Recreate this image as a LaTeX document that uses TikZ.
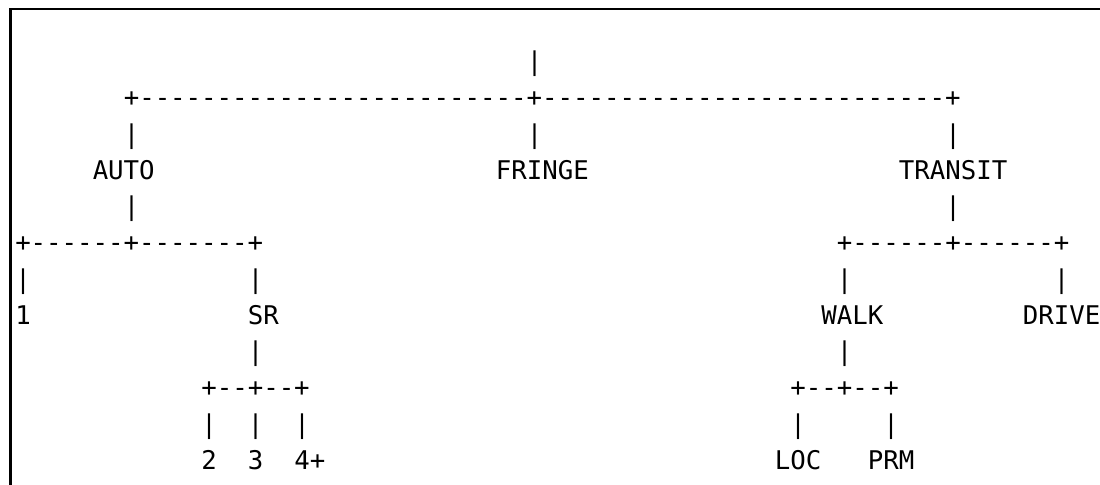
\documentclass[tikz,border=0pt]{standalone}
\usepackage{fontspec}
\setmonofont{DejaVu Sans Mono}
\usepackage{tikz}
\tikzstyle{asc}=[anchor=base west, inner sep=0pt, outer sep=0pt, font=\ttfamily\fontsize{19.31}{23}\selectfont]
\tikzstyle{frame}=[line width=1.9pt, draw=black]
% one piece of the ascii tree: name, column, line, text
\newcommand{\ascii}[4]
{
  \node[asc](#1) at ({15.25+15.5*#2},{70.6+36.25*#3}){#4};
}

\begin{document}
\begin{tikzpicture}[x=0.75pt, y=-0.75pt]
	\useasboundingbox (0,0) rectangle (1100,485);
	\draw[frame] (10.3,486) |- (1101,9.2);

	\ascii{rootbar}{33}{0}{|}
	\ascii{topbranch}{7}{1}{+-------------------------+--------------------------+}
	\ascii{autobar}{7}{2}{|}
	\ascii{fringebar}{33}{2}{|}
	\ascii{transitbar}{60}{2}{|}
	\ascii{auto}{5}{3}{AUTO}
	\ascii{fringe}{31}{3}{FRINGE}
	\ascii{transit}{57}{3}{TRANSIT}
	\ascii{autodown}{7}{4}{|}
	\ascii{transitdown}{60}{4}{|}

	\ascii{autobranch}{0}{5}{+------+-------+}
	\ascii{transitbranch}{53}{5}{+------+------+}
	\ascii{onebar}{0}{6}{|}
	\ascii{srbar}{15}{6}{|}
	\ascii{walkbar}{53}{6}{|}
	\ascii{drivebar}{67}{6}{|}
	\ascii{one}{0}{7}{1}
	\ascii{sr}{15}{7}{SR}
	\ascii{walk}{52}{7}{WALK}
	\ascii{drive}{65}{7}{DRIVE}
	\ascii{srdown}{15}{8}{|}
	\ascii{walkdown}{53}{8}{|}

	\ascii{srbranch}{12}{9}{+--+--+}
	\ascii{walkbranch}{50}{9}{+--+--+}
	\ascii{twobar}{12}{10}{|}
	\ascii{threebar}{15}{10}{|}
	\ascii{fourbar}{18}{10}{|}
	\ascii{locbar}{50}{10}{|}
	\ascii{prmbar}{56}{10}{|}
	\ascii{two}{12}{11}{2}
	\ascii{three}{15}{11}{3}
	\ascii{four}{18}{11}{4+}
	\ascii{loc}{49}{11}{LOC}
	\ascii{prm}{55}{11}{PRM}
\end{tikzpicture}
\end{document}
